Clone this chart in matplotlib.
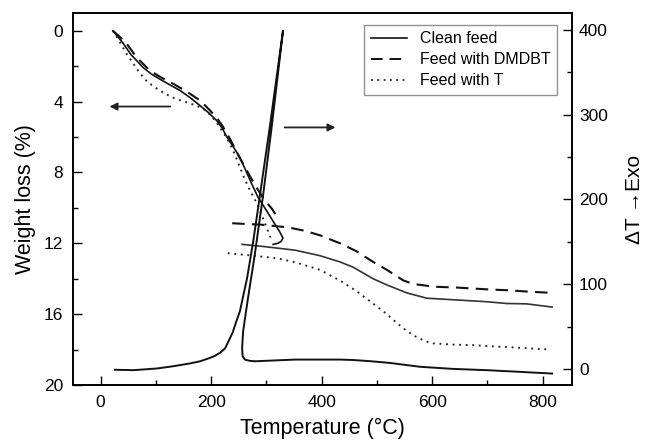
import matplotlib
matplotlib.use("Agg")
import matplotlib.pyplot as plt
from matplotlib.lines import Line2D
from matplotlib.ticker import MultipleLocator

plt.rcParams['font.family'] = ['Liberation Sans', 'DejaVu Sans']

# ---- TGA (weight loss, left axis) ----
T_clean_up = [22, 30, 40, 55, 77, 92, 108, 125, 144, 162, 180, 195, 210, 220, 229, 240, 252, 265,
              275, 285, 296, 306, 316, 324, 330, 327, 321, 312]
w_clean_up = [0, 0.3, 0.68, 1.35, 2.08, 2.45, 2.75, 3.05, 3.38, 3.78, 4.23, 4.62, 5.07, 5.5, 6.03,
              6.55, 7.15, 8.06, 8.75, 9.41, 9.95, 10.45, 10.95, 11.35, 11.7, 11.88, 12.0, 12.06]
T_clean_lo = [256, 300, 352, 397, 433, 457, 493, 518, 554, 590, 645, 699, 735, 771, 817]
w_clean_lo = [12.06, 12.2, 12.39, 12.7, 13.05, 13.35, 14.0, 14.35, 14.8, 15.1, 15.2, 15.3, 15.4,
              15.42, 15.6]

T_dmdbt_up = [22, 33, 47, 65, 89, 110, 131, 155, 180, 198, 212, 221, 234, 243, 252, 270, 283,
              297, 310, 319]
w_dmdbt_up = [0, 0.3, 0.73, 1.5, 2.25, 2.65, 2.99, 3.42, 3.94, 4.5, 5.0, 5.4, 6.1, 6.65, 7.2,
              8.2, 8.9, 9.58, 10.05, 10.5]
T_dmdbt_lo = [238, 290, 339, 370, 397, 433, 463, 493, 518, 548, 566, 584, 602, 645, 699, 735,
              770, 815]
w_dmdbt_lo = [10.87, 10.95, 11.1, 11.3, 11.55, 12.0, 12.45, 13.05, 13.5, 14.1, 14.3, 14.37,
              14.45, 14.5, 14.6, 14.65, 14.72, 14.8]

T_t_up = [22, 33, 47, 60, 71, 85, 102, 116, 131, 146, 162, 176, 190, 200, 210, 222, 234, 243,
          252, 261, 270, 283, 292, 301, 310]
w_t_up = [0, 0.55, 1.3, 1.9, 2.4, 2.9, 3.27, 3.55, 3.78, 3.95, 4.1, 4.27, 4.5, 4.8, 5.2, 5.75,
          6.37, 7.0, 7.7, 8.4, 9.0, 9.75, 10.45, 11.15, 11.9]
T_t_lo = [230, 276, 320, 352, 397, 433, 463, 493, 518, 536, 554, 572, 590, 602, 638, 674, 699,
          759, 815]
w_t_lo = [12.56, 12.7, 12.85, 13.07, 13.5, 14.1, 14.7, 15.4, 16.0, 16.5, 16.95, 17.3, 17.55,
          17.65, 17.72, 17.75, 17.8, 17.9, 18.0]

# ---- DTA (right axis) ----
T_dta = [26, 59, 102, 130, 162, 180, 198, 207, 216, 225, 231, 239, 245, 252, 265, 276, 285, 306,
         330, 310, 294, 279, 267, 258, 256, 257, 261, 270, 279, 352, 397, 433, 457, 490, 524, 560,
         578, 614, 638, 699, 759, 817]
dT_dta = [-1, -1.5, 0.5, 3, 6.5, 9, 13, 15.5, 19, 24, 32, 43, 55, 68, 107, 150, 190, 285,
          399, 288, 205, 135, 85, 45, 25, 15, 11, 9.5, 9, 11, 11, 11, 10.5, 9, 7, 4,
          2.5, 1, 0, -1.5, -3.5, -5.5]

labels = ["Clean feed", "Feed with DMDBT", "Feed with T"]

fig = plt.figure(figsize=(6.46, 4.40), dpi=100)
ax1 = fig.add_axes([73/646, 55/440, 499/646, 372/440])
ax2 = ax1.twinx()

dash = (0, (6, 3.5))
dot = (0, (1, 2.5))
ax1.plot(T_clean_up, w_clean_up, color='#111111', lw=1.2, ls='-')
ax1.plot(T_clean_lo, w_clean_lo, color='#333333', lw=1.2, ls='-')
ax1.plot(T_dmdbt_up, w_dmdbt_up, color='#111111', lw=1.5, ls=dash)
ax1.plot(T_dmdbt_lo, w_dmdbt_lo, color='#111111', lw=1.5, ls=dash)
ax1.plot(T_t_up, w_t_up, color='#222222', lw=1.35, ls=dot)
ax1.plot(T_t_lo, w_t_lo, color='#222222', lw=1.35, ls=dot)

ax2.plot(T_dta, dT_dta, color='#111111', lw=1.4, ls='-')

ax1.set_xlim(-50, 853)
ax1.set_ylim(20, -1)
ax2.set_ylim(-19, 420)

ax1.xaxis.set_major_locator(MultipleLocator(200))
ax1.xaxis.set_minor_locator(MultipleLocator(100))
ax1.yaxis.set_major_locator(MultipleLocator(4))
ax1.yaxis.set_minor_locator(MultipleLocator(2))
ax2.yaxis.set_major_locator(MultipleLocator(100))
ax2.yaxis.set_minor_locator(MultipleLocator(50))

for ax in (ax1, ax2):
    ax.tick_params(which='major', direction='in', length=6.5, width=1.0, labelsize=12.5)
    ax.tick_params(which='minor', direction='in', length=3.8, width=1.0)
    for s in ax.spines.values():
        s.set_linewidth(1.2)
ax1.tick_params(axis='both', which='both', top=False, right=False)
ax1.tick_params(axis='x', pad=7)
ax1.tick_params(axis='y', pad=7)
ax2.tick_params(axis='y', which='both', left=False, right=True, pad=5)

ax1.set_xlabel("Temperature (°C)", fontsize=15.5, labelpad=6)
ax1.set_ylabel("Weight loss (%)", fontsize=15.5, labelpad=6)
ax2.set_ylabel("ΔT →Exo", fontsize=15, labelpad=12)

# arrows
ax1.annotate("", xy=(11, 4.28), xytext=(131, 4.28),
             arrowprops=dict(arrowstyle='-|>', color='#222222', lw=1.3, mutation_scale=11))
ax1.annotate("", xy=(430, 5.46), xytext=(328, 5.46),
             arrowprops=dict(arrowstyle='-|>', color='#222222', lw=1.3, mutation_scale=11))

handles = [Line2D([], [], color='#111111', lw=1.2, ls='-'),
           Line2D([], [], color='#111111', lw=1.4, ls=dash),
           Line2D([], [], color='#222222', lw=1.3, ls=dot)]
leg = ax2.legend(handles, labels, loc='upper right', bbox_to_anchor=(0.97, 0.968),
                 fontsize=11.5, frameon=True, fancybox=False, handlelength=2.3,
                 borderpad=0.4, labelspacing=0.38, handletextpad=0.8, borderaxespad=0)
leg.get_frame().set_edgecolor('#777777')
leg.get_frame().set_linewidth(1.0)

fig.savefig("out.png", dpi=100)
